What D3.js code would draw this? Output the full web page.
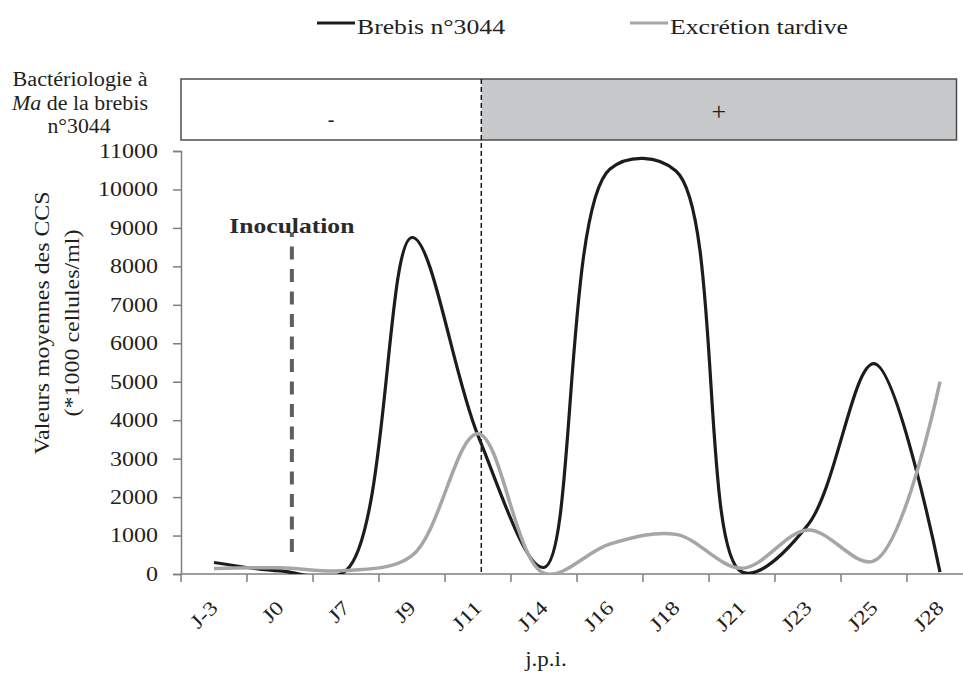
<!DOCTYPE html>
<html>
<head>
<meta charset="utf-8">
<script src="https://cdn.jsdelivr.net/npm/d3@7/dist/d3.min.js"></script>
<style>
  html, body { margin: 0; padding: 0; background: #fff; }
  svg { display: block; font-family: "Liberation Serif", "Times New Roman", serif; }
</style>
</head>
<body>
<svg id="chart" width="963" height="675"></svg>
<script>
// Sampling days (jours post-inoculation)
const days = ["J-3", "J0", "J7", "J9", "J11", "J14", "J16", "J18", "J21", "J23", "J25", "J28"];
// CCS means (*1000 cells/ml)
const brebis3044 = [300, 80, 90, 8750, 3600, 170, 10530, 10480, 50, 1280, 5470, 50];
const excretionTardive = [140, 160, 90, 480, 3650, 20, 780, 1030, 150, 1145, 340, 5000];
const yTicks = [0, 1000, 2000, 3000, 4000, 5000, 6000, 7000, 8000, 9000, 10000, 11000];
const seriesNames = ["Brebis n°3044", "Excrétion tardive"];
const bacterioLabels = ["-", "+"];

const svg = d3.select("#chart");
const serif = "Liberation Serif";
const ink = "#231f20";
const axisColor = "#7f7f7f";

const x = d3.scaleBand().domain(days).range([181, 973]).padding(0);
const y = d3.scaleLinear().domain([0, 11000]).range([574, 151]);
const cx = d => x(d) + x.bandwidth() / 2;

// stretch a text element to a given rendered width
function fit(sel, w) {
  sel.attr("textLength", w).attr("lengthAdjust", "spacingAndGlyphs");
}
function widen(sel, k) {
  sel.each(function () {
    const w = this.getComputedTextLength();
    d3.select(this).attr("textLength", w * k).attr("lengthAdjust", "spacingAndGlyphs");
  });
}

// ---- Legend ----
const legend = [
  { name: seriesNames[0], color: "#1c1c1c", x0: 317, w: 148 },
  { name: seriesNames[1], color: "#a6a6a6", x0: 630, w: 178 }
];
legend.forEach(l => {
  svg.append("line").attr("x1", l.x0).attr("x2", l.x0 + 38).attr("y1", 23).attr("y2", 23)
    .attr("stroke", l.color).attr("stroke-width", 3);
  svg.append("text").attr("x", l.x0 + 40).attr("y", 34).attr("font-family", serif).attr("font-size", 20)
    .attr("fill", ink).text(l.name).call(fit, l.w);
});

// ---- Bacteriology band ----
const splitX = x("J11") + x.bandwidth() * 0.55;
const bandLeft = x.range()[0];
const bandRight = x("J28") + x.bandwidth() * 0.75;
const bandTop = 79, bandBottom = 140;
svg.append("rect").attr("x", splitX).attr("y", bandTop).attr("width", bandRight - splitX)
  .attr("height", bandBottom - bandTop).attr("fill", "#c7c8ca");
svg.append("rect").attr("x", bandLeft).attr("y", bandTop).attr("width", bandRight - bandLeft)
  .attr("height", bandBottom - bandTop).attr("fill", "none").attr("stroke", "#4d4d4d").attr("stroke-width", 1.5);
svg.append("text").attr("x", (bandLeft + splitX) / 2).attr("y", 126).attr("text-anchor", "middle")
  .attr("font-family", serif).attr("font-size", 20).attr("fill", ink).text(bacterioLabels[0]);
svg.append("text").attr("x", (splitX + bandRight) / 2).attr("y", 120).attr("text-anchor", "middle")
  .attr("font-family", serif).attr("font-size", 26).attr("fill", ink).text(bacterioLabels[1]);

// band caption
const cap = svg.append("g").attr("font-family", serif).attr("font-size", 20).attr("fill", ink)
  .attr("text-anchor", "middle");
cap.append("text").attr("x", 80).attr("y", 86).text("Bactériologie à").call(fit, 135);
const l2 = cap.append("text").attr("x", 80).attr("y", 110);
l2.append("tspan").attr("font-style", "italic").text("Ma");
l2.append("tspan").text(" de la brebis");
l2.call(fit, 136);
cap.append("text").attr("x", 79).attr("y", 133).text("n°3044").call(fit, 63);

// ---- Axes ----
const yAxis = svg.append("g").attr("transform", `translate(${x.range()[0]},0)`)
  .call(d3.axisLeft(y).tickValues(yTicks).tickSize(8).tickPadding(15).tickFormat(d3.format("d")));
yAxis.select(".domain").attr("stroke", axisColor).attr("stroke-width", 1.5);
yAxis.selectAll(".tick line").attr("stroke", axisColor).attr("stroke-width", 1.5);
yAxis.selectAll(".tick text").attr("font-family", serif).attr("font-size", 20)
  .attr("fill", ink).call(widen, 1.2);

const xg = svg.append("g");
xg.append("line").attr("x1", x.range()[0]).attr("x2", 963).attr("y1", y(0)).attr("y2", y(0))
  .attr("stroke", axisColor).attr("stroke-width", 1.5);
xg.selectAll("line.tk").data(days).join("line").attr("class", "tk")
  .attr("x1", d => x(d)).attr("x2", d => x(d)).attr("y1", y(0)).attr("y2", y(0) + 8)
  .attr("stroke", axisColor).attr("stroke-width", 1.5);
xg.selectAll("text").data(days).join("text")
  .attr("transform", d => `translate(${cx(d) + 5},609) rotate(-45)`)
  .attr("text-anchor", "end").attr("font-family", serif).attr("font-size", 20).attr("fill", ink)
  .text(d => d).call(widen, 1.2);

svg.append("text").attr("x", 546).attr("y", 666).attr("text-anchor", "middle")
  .attr("font-family", serif).attr("font-size", 20).attr("fill", ink).text("j.p.i.").call(widen, 1.15);

// y title
const yt = svg.append("g").attr("font-family", serif).attr("font-size", 22).attr("fill", ink)
  .attr("text-anchor", "middle");
yt.append("text").attr("transform", "translate(49,323) rotate(-90)").text("Valeurs moyennes des CCS").call(fit, 263);
yt.append("text").attr("transform", "translate(79,323) rotate(-90)").text("(*1000 cellules/ml)").call(fit, 187);

// ---- Markers ----
svg.append("line").attr("x1", splitX).attr("x2", splitX).attr("y1", bandTop).attr("y2", y(0))
  .attr("stroke", "#1a1a1a").attr("stroke-width", 1.5).attr("stroke-dasharray", "5,3");

const inocX = x("J0") + x.bandwidth() * 0.68;
svg.append("line").attr("x1", inocX).attr("x2", inocX).attr("y1", 552).attr("y2", 233)
  .attr("stroke", "#5f5f5f").attr("stroke-width", 4).attr("stroke-dasharray", "13,9.5");
svg.append("text").attr("x", inocX).attr("y", 233).attr("text-anchor", "middle")
  .attr("font-family", serif).attr("font-size", 22).attr("font-weight", "bold").attr("fill", "#2a2a2a")
  .text("Inoculation").call(fit, 125);

// ---- Series ----
svg.append("clipPath").attr("id", "plotClip").append("rect")
  .attr("x", x.range()[0]).attr("y", 0).attr("width", 963 - x.range()[0]).attr("height", y(0));

const line = d3.line().x((d, i) => cx(days[i])).y(d => y(d)).curve(d3.curveCatmullRom.alpha(0.5));
const plot = svg.append("g").attr("clip-path", "url(#plotClip)");
plot.append("path").datum(brebis3044).attr("d", line).attr("fill", "none")
  .attr("stroke", "#1c1c1c").attr("stroke-width", 3.2);
plot.append("path").datum(excretionTardive).attr("d", line).attr("fill", "none")
  .attr("stroke", "#a6a6a6").attr("stroke-width", 3.5);
</script>
</body>
</html>
